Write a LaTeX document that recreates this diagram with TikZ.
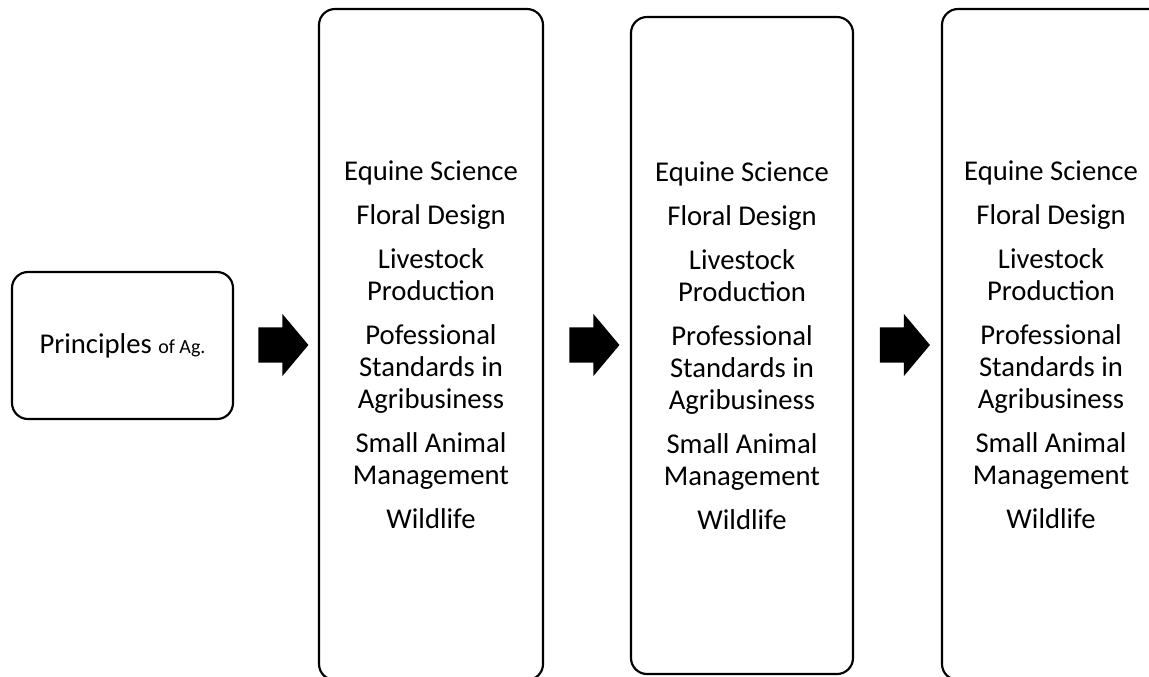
\documentclass[tikz,border=0pt]{standalone}
\usepackage{fontspec}
\setmainfont{Carlito}
\usetikzlibrary{shapes.arrows,calc}

\begin{document}
\begin{tikzpicture}[x=0.75pt,y=-0.75pt,
  box/.style={draw, line width=1.6pt, rounded corners=12pt, align=center,
    inner sep=0pt, font=\fontsize{21.5}{24}\selectfont},
  list/.style={align=center, inner sep=0pt, font=\fontsize{21.5}{24}\selectfont},
  bigarrow/.style={single arrow, fill=black, draw=none, inner xsep=0pt, inner ysep=13.1pt,
    minimum height=37.5pt, single arrow head extend=10pt, single arrow tip angle=100}]
  % page size, boxes run past the edges
  \useasboundingbox (0,0) rectangle (1149,676);
  \clip (0,0) rectangle (1149,676);

  % list of courses (#1 = spelling of Professional)
  \def\courses#1{Equine Science\\[9pt] Floral Design\\[9pt] Livestock\\ Production\\[9pt]
    #1\\ Standards in\\ Agribusiness\\[9pt] Small Animal\\ Management\\[9pt] Wildlife}

  % start box
  \node[box, minimum width=165.75pt, minimum height=110.25pt] (principles) at (122.5,345.5)
    {Principles {\fontsize{15}{16}\selectfont of Ag.}};

  % course boxes
  \node[box, minimum width=168pt, minimum height=503.25pt] (courseA) at (431,344.5)
    {\courses{Pofessional}};
  \node[box, minimum width=166.5pt, minimum height=492.75pt] (courseB) at (742,345.5)
    {\courses{Professional}};
  % last box is cut by the right edge
  \node[box, minimum width=180pt, minimum height=503.25pt] (courseC) at (1062,344.5) {};
  \node[list] (coursesC) at (1051,344.5) {\courses{Professional}};

  % block arrows between the boxes
  \node[bigarrow] (arrA) at ($(principles.east)!0.5!(courseA.west)$) {};
  \node[bigarrow] (arrB) at ($(courseA.east)!0.5!(courseB.west)$) {};
  \node[bigarrow] (arrC) at ($(courseB.east)!0.5!(courseC.west)$) {};
\end{tikzpicture}
\end{document}
